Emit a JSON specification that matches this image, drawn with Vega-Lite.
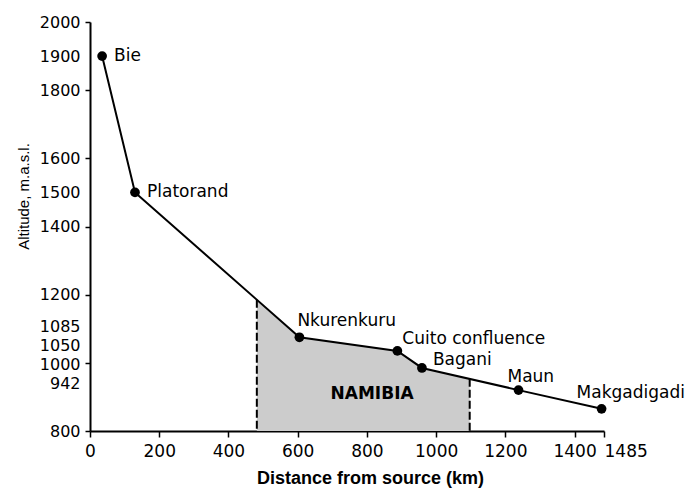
{
  "$schema": "https://vega.github.io/schema/vega-lite/v6.json",
  "width": 514,
  "height": 409,
  "autosize": {"type": "none"},
  "padding": {"left": 90, "top": 22, "right": 84, "bottom": 58},
  "background": "white",
  "config": {
    "view": {"stroke": null},
    "font": "DejaVu Sans",
    "axis": {
      "domainColor": "black",
      "domainWidth": 2,
      "tickColor": "black",
      "tickWidth": 1.5,
      "labelColor": "black",
      "titleColor": "black",
      "labelFont": "DejaVu Sans",
      "titleFont": "Liberation Sans",
      "grid": false
    }
  },
  "datasets": {
    "stations": [
      {"name": "Bie", "d": 35, "alt": 1900},
      {"name": "Platorand", "d": 130, "alt": 1500},
      {"name": "Nkurenkuru", "d": 605, "alt": 1075},
      {"name": "Cuito confluence", "d": 888, "alt": 1035},
      {"name": "Bagani", "d": 959, "alt": 985},
      {"name": "Maun", "d": 1238, "alt": 920},
      {"name": "Makgadigadi", "d": 1478, "alt": 865}
    ],
    "namibia": [
      {"d": 482, "alt": 1185},
      {"d": 605, "alt": 1075},
      {"d": 888, "alt": 1035},
      {"d": 959, "alt": 985},
      {"d": 1097, "alt": 953}
    ],
    "edges": [
      {"d": 482, "alt": 1185},
      {"d": 1097, "alt": 953}
    ],
    "region": [
      {"name": "NAMIBIA", "d": 815, "alt": 908}
    ]
  },
  "encoding": {
    "x": {
      "field": "d",
      "type": "quantitative",
      "scale": {"domain": [0, 1485], "nice": false, "zero": false},
      "axis": {
        "values": [0, 200, 400, 600, 800, 1000, 1200, 1400, 1485],
        "format": "d",
        "title": "Distance from source (km)",
        "titleFontWeight": "bold",
        "titleFontSize": 18,
        "titleX": 280,
        "titleY": 52,
        "titleBaseline": "alphabetic",
        "titleAlign": "center",
        "labelFontSize": 17,
        "labelPadding": 6,
        "tickSize": 6,
        "labelFlush": false,
        "labelOverlap": false,
        "labelAlign": {"condition": {"test": "datum.value === 1485", "value": "left"}, "value": "center"}
      }
    },
    "y": {
      "field": "alt",
      "type": "quantitative",
      "scale": {"domain": [800, 2000], "nice": false, "zero": false},
      "axis": {
        "values": [800, 942, 1000, 1050, 1085, 1200, 1400, 1500, 1600, 1800, 1900, 2000],
        "format": "d",
        "title": "Altitude, m.a.s.l.",
        "titleFontWeight": "normal",
        "titleFontSize": 15,
        "titleAngle": -90,
        "titleX": -62,
        "titleY": 174,
        "titleBaseline": "alphabetic",
        "titleAlign": "center",
        "labelFontSize": 16,
        "labelPadding": 5,
        "tickSize": 5,
        "labelFlush": false,
        "labelOverlap": false,
        "labelOffset": {"condition": [
          {"test": "datum.value === 1085", "value": -7},
          {"test": "datum.value === 1050", "value": 0},
          {"test": "datum.value === 1000", "value": 2},
          {"test": "datum.value === 942", "value": 1}
        ], "value": 0},
        "tickOpacity": {"condition": {"test": "datum.value % 200 !== 0", "value": 0}, "value": 1}
      }
    }
  },
  "layer": [
    {
      "data": {"name": "namibia"},
      "mark": {"type": "area", "color": "#cccccc", "opacity": 1},
      "encoding": {"y2": {"datum": 800}}
    },
    {
      "data": {"name": "edges"},
      "mark": {"type": "rule", "color": "black", "strokeWidth": 2, "strokeDash": [8, 3]},
      "encoding": {"y2": {"datum": 800}}
    },
    {
      "data": {"name": "stations"},
      "mark": {"type": "line", "color": "black", "strokeWidth": 2},
      "encoding": {}
    },
    {
      "data": {"name": "stations"},
      "mark": {"type": "circle", "color": "black", "size": 95, "opacity": 1},
      "encoding": {}
    },
    {
      "data": {"name": "stations"},
      "transform": [{"filter": "datum.name === 'Bie' || datum.name === 'Platorand'"}],
      "mark": {"type": "text", "align": "left", "baseline": "middle", "dx": 12, "dy": 0, "fontSize": 17, "color": "black"},
      "encoding": {"text": {"field": "name"}}
    },
    {
      "data": {"name": "stations"},
      "transform": [{"filter": "datum.name === 'Nkurenkuru'"}],
      "mark": {"type": "text", "align": "left", "baseline": "middle", "dx": -2, "dy": -16, "fontSize": 17, "color": "black"},
      "encoding": {"text": {"field": "name"}}
    },
    {
      "data": {"name": "stations"},
      "transform": [{"filter": "datum.name === 'Cuito confluence'"}],
      "mark": {"type": "text", "align": "left", "baseline": "middle", "dx": 5, "dy": -12, "fontSize": 17, "color": "black"},
      "encoding": {"text": {"field": "name"}}
    },
    {
      "data": {"name": "stations"},
      "transform": [{"filter": "datum.name === 'Bagani'"}],
      "mark": {"type": "text", "align": "left", "baseline": "middle", "dx": 11, "dy": -8, "fontSize": 17, "color": "black"},
      "encoding": {"text": {"field": "name"}}
    },
    {
      "data": {"name": "stations"},
      "transform": [{"filter": "datum.name === 'Maun'"}],
      "mark": {"type": "text", "align": "left", "baseline": "middle", "dx": -11, "dy": -13, "fontSize": 17, "color": "black"},
      "encoding": {"text": {"field": "name"}}
    },
    {
      "data": {"name": "stations"},
      "transform": [{"filter": "datum.name === 'Makgadigadi'"}],
      "mark": {"type": "text", "align": "left", "baseline": "middle", "dx": -25, "dy": -16, "fontSize": 17, "color": "black"},
      "encoding": {"text": {"field": "name"}}
    },
    {
      "data": {"name": "region"},
      "mark": {"type": "text", "align": "center", "baseline": "middle", "fontSize": 17, "fontWeight": "bold", "color": "black"},
      "encoding": {"text": {"field": "name"}}
    }
  ]
}
